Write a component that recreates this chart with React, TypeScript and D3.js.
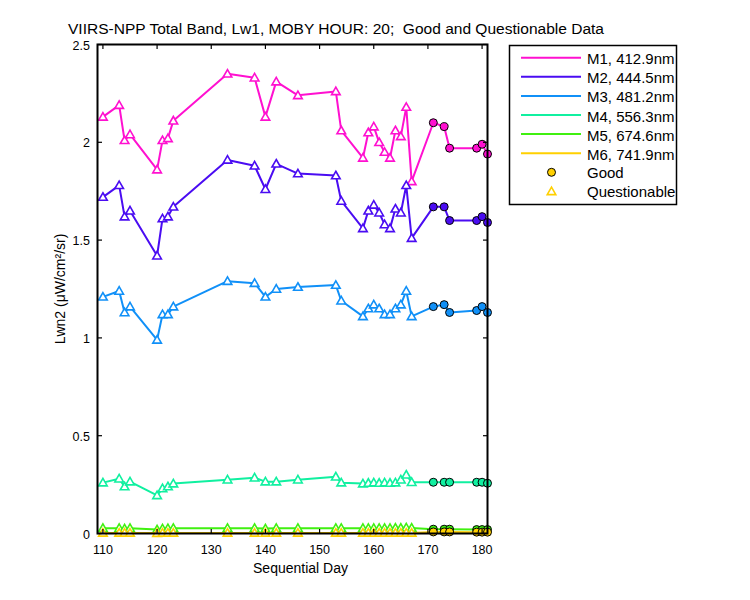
import React from "react";
import * as d3 from "d3";

// ---- Data ----
const qDays = [110, 113, 114, 115, 120, 121, 122, 123, 133, 138, 140, 142, 146, 153, 154, 158, 159, 160, 161, 162, 163, 164, 165, 166, 167];
const gDays = [171, 173, 174, 179, 180, 181];

const bandNames = ["M1, 412.9nm", "M2, 444.5nm", "M3, 481.2nm", "M4, 556.3nm", "M5, 674.6nm", "M6, 741.9nm"];
const bandColors = ["#ff10d0", "#4a0cf2", "#1090f8", "#10f0a0", "#40f010", "#ffd000"];

const m1Q = [2.13, 2.19, 2.01, 2.04, 1.86, 2.01, 2.02, 2.11, 2.35, 2.33, 2.13, 2.31, 2.24, 2.26, 2.06, 1.92, 2.05, 2.08, 2.0, 1.95, 1.92, 2.06, 2.03, 2.18, 1.8];
const m1G = [2.1, 2.08, 1.97, 1.97, 1.99, 1.94];
const m2Q = [1.72, 1.78, 1.62, 1.65, 1.42, 1.61, 1.62, 1.67, 1.91, 1.88, 1.76, 1.89, 1.84, 1.83, 1.7, 1.56, 1.65, 1.68, 1.64, 1.58, 1.56, 1.66, 1.64, 1.78, 1.51];
const m2G = [1.67, 1.67, 1.6, 1.6, 1.62, 1.59];
const m3Q = [1.21, 1.24, 1.13, 1.16, 0.99, 1.12, 1.12, 1.16, 1.29, 1.28, 1.21, 1.25, 1.26, 1.27, 1.19, 1.11, 1.15, 1.17, 1.15, 1.12, 1.12, 1.15, 1.17, 1.24, 1.11];
const m3G = [1.16, 1.17, 1.13, 1.14, 1.16, 1.13];
const m4Q = [0.26, 0.28, 0.24, 0.265, 0.195, 0.23, 0.24, 0.255, 0.275, 0.285, 0.265, 0.265, 0.275, 0.29, 0.26, 0.255, 0.258, 0.26, 0.258, 0.26, 0.258, 0.26, 0.275, 0.3, 0.262];
const m4G = [0.262, 0.262, 0.262, 0.262, 0.262, 0.257];
const m5Q = [0.027, 0.027, 0.025, 0.027, 0.02, 0.025, 0.026, 0.027, 0.027, 0.027, 0.025, 0.027, 0.027, 0.027, 0.027, 0.027, 0.027, 0.027, 0.027, 0.027, 0.027, 0.028, 0.028, 0.03, 0.028];
const m5G = [0.022, 0.022, 0.022, 0.02, 0.02, 0.02];
const m6Q = [0.003, 0.003, 0.003, 0.003, 0.002, 0.003, 0.003, 0.003, 0.003, 0.003, 0.003, 0.003, 0.003, 0.003, 0.003, 0.003, 0.003, 0.003, 0.003, 0.003, 0.003, 0.003, 0.003, 0.003, 0.003];
const m6G = [0.008, 0.008, 0.008, 0.007, 0.007, 0.007];

const qValues = [m1Q, m2Q, m3Q, m4Q, m5Q, m6Q];
const gValues = [m1G, m2G, m3G, m4G, m5G, m6G];

const xTicks = [110, 120, 130, 140, 150, 160, 170, 180];
const yTicks = [0, 0.5, 1, 1.5, 2, 2.5];

const titleText = "VIIRS-NPP Total Band, Lw1, MOBY HOUR: 20;  Good and Questionable Data";
const xLabel = "Sequential Day";
const yLabel = "Lwn2 (\u03bcW/cm\u00b2/sr)";

const FONT = "'Liberation Sans', Arial, sans-serif";

const tri = (cx: number, cy: number, s = 4.3) =>
  `M${cx},${cy - s}L${cx + s},${cy + s * 0.75}L${cx - s},${cy + s * 0.75}Z`;

export default function App() {
  const L = 97.5, R = 487.5, T = 44.5, B = 533.5;
  const x = d3.scaleLinear().domain([109, 181]).range([L, R]);
  const y = d3.scaleLinear().domain([0, 2.5]).range([B, T]);
  const line = d3.line<[number, number]>().x((d) => x(d[0])).y((d) => y(d[1]));

  const legY = (i: number) => 57.7 + 19.1 * i;

  return (
    <svg width={750} height={600} style={{ position: "absolute", left: 0, top: 0, background: "#fff" }} fontFamily={FONT}>
      <rect x={0} y={0} width={750} height={600} fill="#fff" />
      <text x={68} y={34} fontSize={14} textLength={536} lengthAdjust="spacingAndGlyphs" fill="#000" style={{ whiteSpace: "pre" }} xmlSpace="preserve">
        {titleText}
      </text>

      {qValues.map((vals, si) => {
        const pts: [number, number][] = [
          ...qDays.map((d, i) => [d, vals[i]] as [number, number]),
          ...gDays.map((d, i) => [d, gValues[si][i]] as [number, number]),
        ];
        const color = bandColors[si];
        return (
          <g key={si}>
            <path d={line(pts) || ""} fill="none" stroke={color} strokeWidth={2} strokeLinejoin="round" />
            {qDays.map((d, i) => (
              <path key={"q" + i} d={tri(x(d), y(vals[i]))} fill="#fff" stroke={color} strokeWidth={1.6} />
            ))}
            {gDays.map((d, i) => (
              <circle key={"g" + i} cx={x(d)} cy={y(gValues[si][i])} r={4} fill={color} stroke="#000" strokeWidth={1} />
            ))}
          </g>
        );
      })}

      {/* axes box */}
      <rect x={L} y={T} width={R - L} height={B - T} fill="none" stroke="#000" strokeWidth={2} />
      {xTicks.map((t) => (
        <g key={"xt" + t}>
          <line x1={x(t)} x2={x(t)} y1={B} y2={B - 4.5} stroke="#000" strokeWidth={1.2} />
          <line x1={x(t)} x2={x(t)} y1={T} y2={T + 4.5} stroke="#000" strokeWidth={1.2} />
          <text x={x(t)} y={553.5} fontSize={12.5} textAnchor="middle" fill="#000">{t}</text>
        </g>
      ))}
      {yTicks.map((t) => (
        <g key={"yt" + t}>
          <line x1={L} x2={L + 4.5} y1={y(t)} y2={y(t)} stroke="#000" strokeWidth={1.2} />
          <line x1={R} x2={R - 4.5} y1={y(t)} y2={y(t)} stroke="#000" strokeWidth={1.2} />
          <text x={90} y={y(t) + 5} fontSize={12.5} textAnchor="end" fill="#000">{t}</text>
        </g>
      ))}
      <text x={(L + R) / 2 + 8} y={573} fontSize={14} textAnchor="middle" fill="#000">{xLabel}</text>
      <text transform={`translate(65,${(T + B) / 2}) rotate(-90)`} fontSize={14} textAnchor="middle" fill="#000">{yLabel}</text>

      {/* legend */}
      <rect x={509.5} y={45.5} width={167} height={159} fill="#fff" stroke="#000" strokeWidth={1.5} />
      {bandNames.map((n, i) => (
        <g key={"lg" + i}>
          <line x1={521} x2={581} y1={legY(i)} y2={legY(i)} stroke={bandColors[i]} strokeWidth={2} />
          <text x={587} y={legY(i) + 6.5} fontSize={15} fill="#000">{n}</text>
        </g>
      ))}
      <circle cx={551.5} cy={legY(6)} r={4} fill={bandColors[5]} stroke="#000" strokeWidth={1} />
      <text x={587} y={legY(6) + 6} fontSize={15} fill="#000">Good</text>
      <path d={tri(551.5, legY(7))} fill="#fff" stroke={bandColors[5]} strokeWidth={1.6} />
      <text x={587} y={legY(7) + 6} fontSize={15} fill="#000">Questionable</text>
    </svg>
  );
}
